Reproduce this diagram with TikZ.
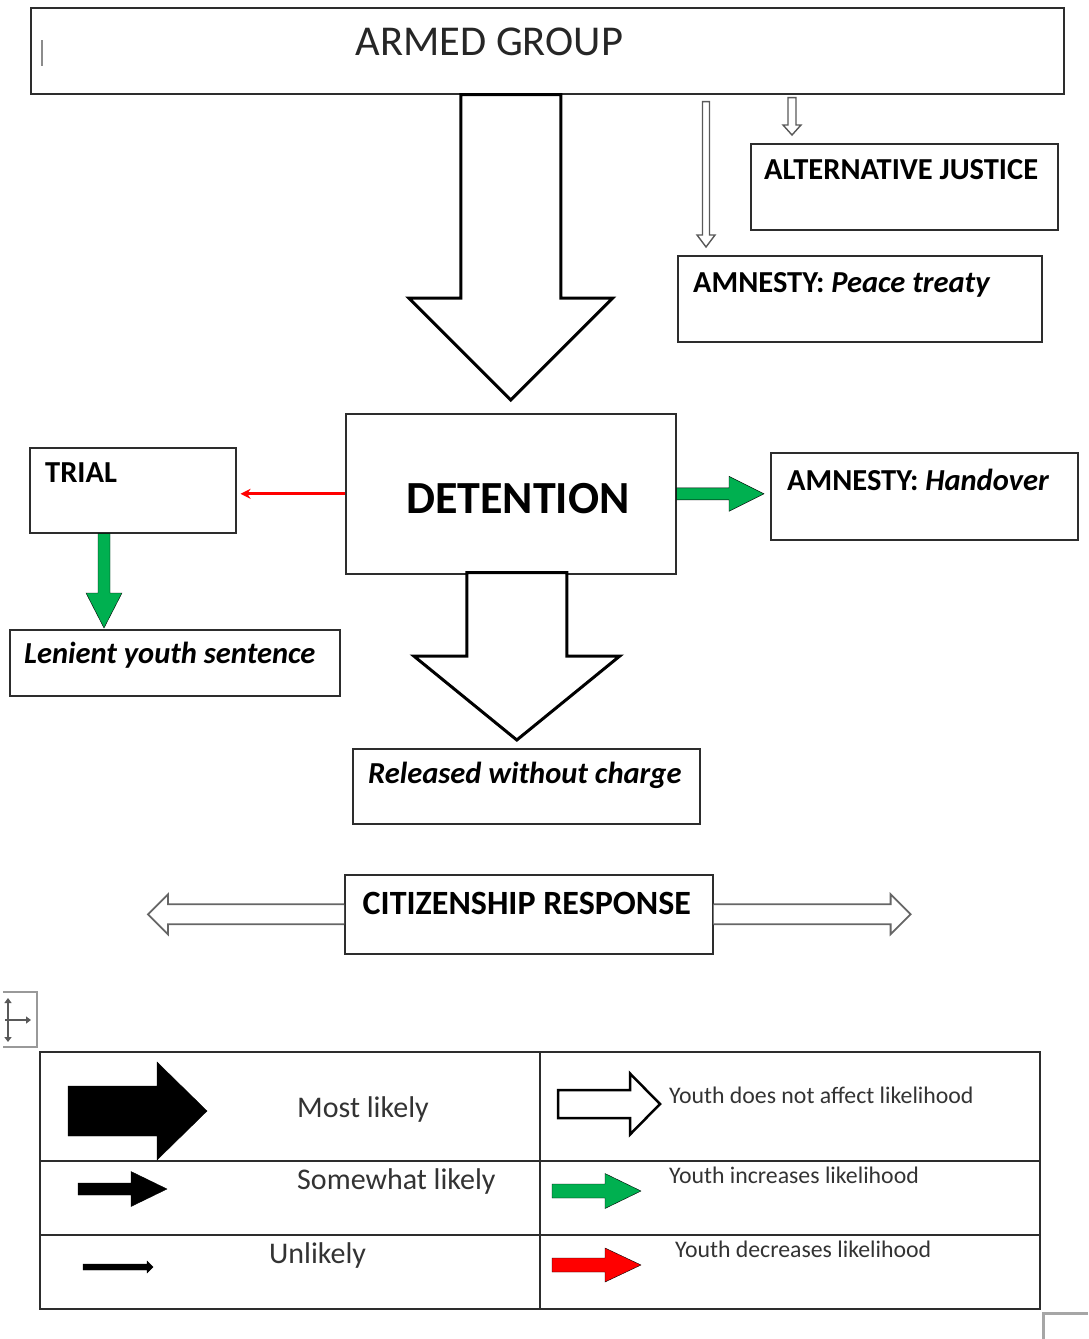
\documentclass[tikz,border=0pt]{standalone}
\usepackage{fontspec}
\setmainfont{Carlito}
\usepackage{tikz}
\usetikzlibrary{arrows.meta,calc,positioning}

\definecolor{wgreen}{RGB}{0,176,80}
\definecolor{wred}{RGB}{255,0,0}
\definecolor{wline}{RGB}{45,45,45}

% block arrow: style, from, to, shaft half width, head half width, head length
\newcommand{\fatarrow}[6]{%
  \path ($(#3)!#6!(#2)$) coordinate (fa-base);
  \draw[#1] ($(#2)!#4!90:(#3)$) -- ($(fa-base)!#4!90:(#3)$) -- ($(fa-base)!#5!90:(#3)$) -- (#3)
    -- ($(fa-base)!#5!-90:(#3)$) -- ($(fa-base)!#4!-90:(#3)$) -- ($(#2)!#4!-90:(#3)$) -- cycle;
}

\tikzset{
	box/.style={draw=wline, line width=1.6pt, fill=white, inner sep=0pt, anchor=north west},
	lbl/.style={anchor=base west, inner sep=0pt, font=\bfseries\fontsize{30.5}{35}\selectfont},
	keytext/.style={anchor=base west, inner sep=0pt, text=black!80, font=\fontsize{30}{35}\selectfont},
	keysmall/.style={anchor=base west, inner sep=0pt, text=black!80, font=\fontsize{23.8}{28}\selectfont},
	hollowbig/.style={draw=black, line width=3pt, fill=white, line join=miter}, % main routes
	hollowthin/.style={draw=black!65, line width=1.4pt, fill=white},
	hollowkey/.style={draw=black, line width=2.5pt, fill=white},
	greenfat/.style={fill=wgreen},
	redfat/.style={fill=wred},
	blackfat/.style={fill=black},
	redline/.style={draw=wred, line width=3pt, -{Stealth[length=10pt,width=10pt]}, shorten >=4pt},
	dblarrow/.style={draw=black!60, line width=1.8pt, fill=white, line join=miter},
	ui/.style={draw=black!40, line width=2pt},
}

\begin{document}
\begin{tikzpicture}[x=1pt, y=-1pt]
\useasboundingbox (0,0) rectangle (1088,1339);

% boxes
\node[box, minimum width=1033pt, minimum height=86pt] (armed) at (30,7) {};
\node[box, minimum width=307pt, minimum height=86pt] (alt) at (750,143) {};
\node[box, minimum width=364pt, minimum height=86pt] (peace) at (677,255) {};
\node[box, minimum width=330pt, minimum height=160pt] (det) at (345,413) {};
\node[box, minimum width=206pt, minimum height=85pt] (trial) at (29,447) {};
\node[box, minimum width=307pt, minimum height=87pt] (hand) at (770,452) {};
\node[box, minimum width=330pt, minimum height=66pt] (lenient) at (9,629) {};
\node[box, minimum width=347pt, minimum height=75pt] (rel) at (352,748) {};
\node[box, minimum width=368pt, minimum height=79pt] (cit) at (344,874) {};

% texts
\node[anchor=base, inner sep=0pt, font=\fontsize{42.5}{48}\selectfont, text=black!85] (armed-t) at ($(armed.center)+(-58,5)$) {ARMED GROUP};
\node[lbl] (alt-t) at ($(alt.north west)+(14,36)$) {ALTERNATIVE JUSTICE};
\node[lbl] (peace-t) at ($(peace.north west)+(16,37)$) {AMNESTY: \textit{Peace treaty}};
\node[anchor=base, inner sep=0pt, font=\bfseries\fontsize{46}{52}\selectfont] (det-t) at ($(det.center)+(7,20)$) {DETENTION};
\node[lbl] (trial-t) at ($(trial.north west)+(16,35)$) {TRIAL};
\node[lbl] (hand-t) at ($(hand.north west)+(17,38)$) {AMNESTY: \textit{Handover}};
\node[lbl] (lenient-t) at ($(lenient.north west)+(15,34)$) {\textit{Lenient youth sentence}};
\node[lbl] (rel-t) at ($(rel.north west)+(16,35)$) {\textit{Released without charge}};
\node[anchor=base, inner sep=0pt, font=\bfseries\fontsize{34}{40}\selectfont] (cit-t) at ($(cit.center)+(-2,0)$) {CITIZENSHIP RESPONSE};

% arrow ends
\coordinate (a1-from) at (det.north |- armed.south);
\coordinate (a1-to) at ($(det.north)+(0,-13)$);
\coordinate (a2-from) at ($(det.south)+(6,-2)$);
\coordinate (a2-to) at ($(det.south |- rel.north)+(6,-8)$);
\coordinate (p-from) at ($(peace.north west |- armed.south)+(29,7)$);
\coordinate (p-to) at ($(peace.north west)+(29,-8)$);
\coordinate (j-from) at ($(alt.north west |- armed.south)+(42,3)$);
\coordinate (j-to) at ($(alt.north west)+(42,-8)$);
\coordinate (h-to) at ($(det.east -| hand.west)+(-6,0)$);
\coordinate (t-from) at ($(trial.south west)+(75,0)$);
\coordinate (t-to) at ($(trial.south west |- lenient.north)+(75,-1)$);

\fatarrow{hollowbig}{a1-from}{a1-to}{50pt}{102pt}{102pt}
\fatarrow{hollowbig}{a2-from}{a2-to}{50pt}{103pt}{84pt}
\fatarrow{hollowthin}{p-from}{p-to}{3.5pt}{9pt}{12pt}
\fatarrow{hollowthin}{j-from}{j-to}{4pt}{9pt}{10pt}
\fatarrow{greenfat}{det.east}{h-to}{6pt}{17.5pt}{35pt}
\fatarrow{greenfat}{t-from}{t-to}{6pt}{18pt}{35pt}
\draw[redline] (det.west) -- (det.west -| trial.east);

% citizenship double arrow
\draw[dblarrow] ($(cit.west)+(0,-10)$) -- ++(-176,0) -- ++(0,-10) -- ++(-20,20) -- ++(20,20) -- ++(0,-10) -- ($(cit.west)+(0,10)$);
\draw[dblarrow] ($(cit.east)+(0,-10)$) -- ++(177,0) -- ++(0,-10) -- ++(20,20) -- ++(-20,20) -- ++(0,-10) -- ($(cit.east)+(0,10)$);

% legend
\node[box, minimum width=1000pt, minimum height=257pt] (legend) at (39,1051) {};
\draw[draw=wline, line width=1.6pt] (legend.north) -- (legend.south);
\draw[draw=wline, line width=1.6pt] ($(legend.north west)+(0,110)$) -- ($(legend.north east)+(0,110)$);
\draw[draw=wline, line width=1.6pt] ($(legend.north west)+(0,184)$) -- ($(legend.north east)+(0,184)$);

\coordinate (k1-from) at ($(legend.north west)+(29,60)$);
\coordinate (k1-to) at ($(legend.north west)+(168,60)$);
\coordinate (k2-from) at ($(legend.north west)+(39,138)$);
\coordinate (k2-to) at ($(legend.north west)+(128,138)$);
\coordinate (k3-from) at ($(legend.north west)+(44,216)$);
\coordinate (k3-to) at ($(legend.north west)+(114,216)$);
\coordinate (k4-from) at ($(legend.north west)+(519,53)$);
\coordinate (k4-to) at ($(legend.north west)+(621,53)$);
\coordinate (k5-from) at ($(legend.north west)+(513,140)$);
\coordinate (k5-to) at ($(legend.north west)+(602,140)$);
\coordinate (k6-from) at ($(legend.north west)+(513,214)$);
\coordinate (k6-to) at ($(legend.north west)+(602,214)$);

\fatarrow{blackfat}{k1-from}{k1-to}{25pt}{49pt}{50pt}
\fatarrow{blackfat}{k2-from}{k2-to}{6pt}{17.5pt}{36pt}
\fatarrow{blackfat}{k3-from}{k3-to}{3pt}{6pt}{6pt}
\fatarrow{hollowkey}{k4-from}{k4-to}{14pt}{30.5pt}{30pt}
\fatarrow{greenfat}{k5-from}{k5-to}{7pt}{17.5pt}{36pt}
\fatarrow{redfat}{k6-from}{k6-to}{7pt}{17pt}{36pt}

\node[keytext] (k1-t) at ($(legend.north west)+(258,66)$) {Most likely};
\node[keytext] (k2-t) at ($(legend.north west)+(258,138)$) {Somewhat likely};
\node[keytext] (k3-t) at ($(legend.north west)+(230,212)$) {Unlikely};
\node[keysmall] (k4-t) at ($(legend.north west)+(630,52)$) {Youth does not affect likelihood};
\node[keysmall] (k5-t) at ($(legend.north west)+(630,132)$) {Youth increases likelihood};
\node[keysmall] (k6-t) at ($(legend.north west)+(636,206)$) {Youth decreases likelihood};

% editor marks
\draw[ui, draw=black!45, line width=1.5pt] (42,40) -- (42,66);
\draw[ui] (3,992) -- (37,992) -- (37,1047) -- (3,1047);
\draw[draw=black!65, line width=2.5pt, {Triangle[length=5pt,width=7pt]}-{Triangle[length=5pt,width=7pt]}] (8,998) -- (8,1042);
\draw[draw=black!65, line width=2.5pt, -{Triangle[length=5pt,width=7pt]}] (5,1020) -- (31,1020);
\draw[draw=black!35, line width=3pt] (1043,1339) -- (1043,1313) -- (1088,1313);
\end{tikzpicture}
\end{document}
